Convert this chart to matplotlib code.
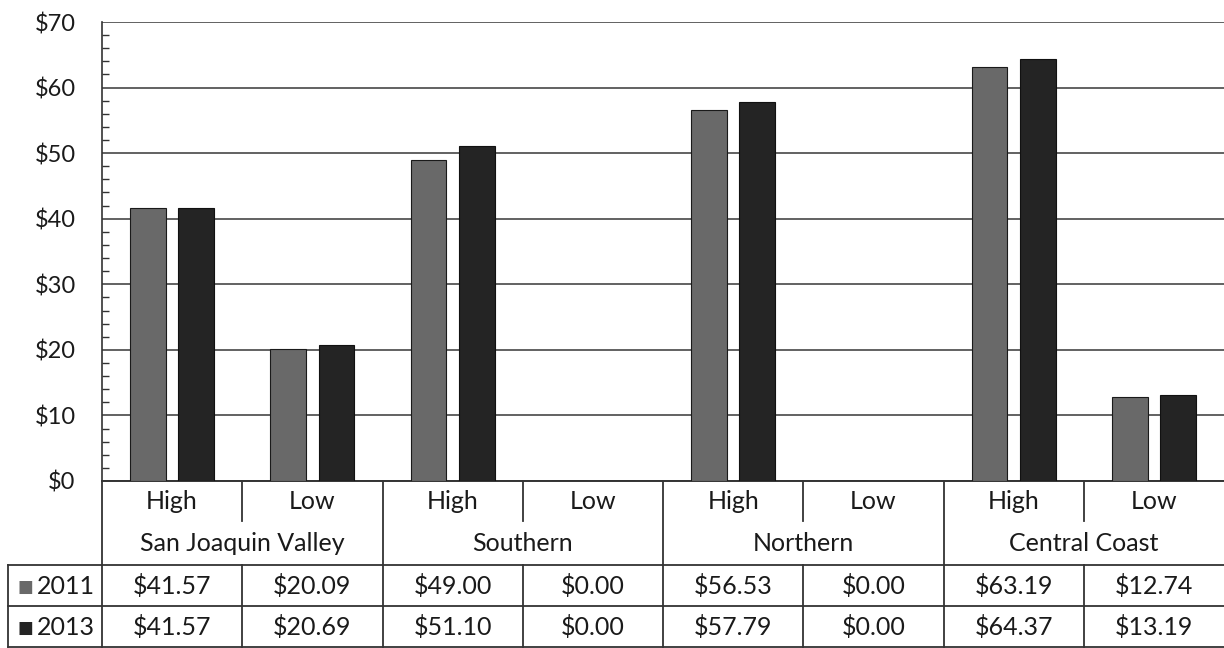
import matplotlib.pyplot as plt
from matplotlib.ticker import MultipleLocator, FuncFormatter

# prices per unit by region and rate level
regions = ['San Joaquin Valley', 'Southern', 'Northern', 'Central Coast']
levels = ['High', 'Low']
years = ['2011', '2013']
price_2011 = [41.57, 20.09, 49.00, 0.00, 56.53, 0.00, 63.19, 12.74]
price_2013 = [41.57, 20.69, 51.10, 0.00, 57.79, 0.00, 64.37, 13.19]
colors = ['#696969', '#242424']

plt.rcParams['font.family'] = ['Lato', 'DejaVu Sans']
W, H = 1224, 648
fig = plt.figure(figsize=(W / 100, H / 100), dpi=100)

left_px, top_px, bot_px = 102, 22, 481
ax = fig.add_axes([left_px / W, 1 - bot_px / H, 1 - left_px / W, (bot_px - top_px) / H])

n = len(price_2011)
xs = [i + 0.5 for i in range(n)]
bw = 0.255
ax.bar([x - 0.172 for x in xs], price_2011, bw, color=colors[0], edgecolor='#1a1a1a', lw=0.8, zorder=3)
ax.bar([x + 0.172 for x in xs], price_2013, bw, color=colors[1], edgecolor='#111111', lw=0.8, zorder=3)

ax.set_xlim(0, n)
ax.set_ylim(0, 70)
ax.yaxis.set_major_locator(MultipleLocator(10))
ax.yaxis.set_minor_locator(MultipleLocator(2))
ax.yaxis.set_major_formatter(FuncFormatter(lambda v, p: f'${v:.0f}'))
ax.tick_params(axis='y', which='major', length=0, labelsize=17, pad=19, labelcolor='#1a1a1a')
ax.tick_params(axis='y', which='minor', length=5, direction='in', width=1, color='#333333')
ax.set_xticks([])
ax.grid(axis='y', color='#555555', lw=1.3, zorder=0)
for s in ['top', 'right']:
    ax.spines[s].set_visible(False)
ax.spines['left'].set_color('#333333')
ax.spines['left'].set_linewidth(1.2)
ax.spines['bottom'].set_color('#333333')
ax.spines['bottom'].set_linewidth(1.4)

# data table under the plot, sharing the category x units
unit = (W - left_px) / n
tb = fig.add_axes([0, 0, 1, (H - bot_px) / H])
tb.set_xlim(-left_px / unit, n)
tb.set_ylim(H, bot_px)
tb.axis('off')

lc = dict(color='#333333', lw=1.3)
rows = [481, 521, 565, 606, 647]
x_lab = 8 / unit - left_px / unit

# horizontal rules
tb.plot([x_lab, n], [rows[2], rows[2]], **lc)
tb.plot([x_lab, n], [rows[3], rows[3]], **lc)
tb.plot([x_lab, n], [rows[4], rows[4]], **lc)
# verticals
tb.plot([x_lab, x_lab], [rows[2], rows[4]], **lc)
tb.plot([0, 0], [rows[0], rows[4]], **lc)
for g in range(1, len(regions)):
    tb.plot([2 * g, 2 * g], [rows[0], rows[4]], **lc)
for g in range(len(regions)):
    tb.plot([2 * g + 1, 2 * g + 1], [rows[0], rows[1]], **lc)
    tb.plot([2 * g + 1, 2 * g + 1], [rows[2], rows[4]], **lc)

fs = 18
tc = '#1a1a1a'
for i in range(n):
    tb.text(xs[i], (rows[0] + rows[1]) / 2 + 1, levels[i % 2], ha='center', va='center', fontsize=fs, color=tc)
    tb.text(xs[i], (rows[2] + rows[3]) / 2 + 1, f'${price_2011[i]:.2f}', ha='center', va='center', fontsize=fs, color=tc)
    tb.text(xs[i], (rows[3] + rows[4]) / 2 + 1, f'${price_2013[i]:.2f}', ha='center', va='center', fontsize=fs, color=tc)
for g, name in enumerate(regions):
    tb.text(2 * g + 1, (rows[1] + rows[2]) / 2 + 1, name, ha='center', va='center', fontsize=fs, color=tc)

for k, (yr, c) in enumerate(zip(years, colors)):
    yc = (rows[2 + k] + rows[3 + k]) / 2 + 1
    tb.text(x_lab + 0.065, yc, '\u25a0', ha='left', va='center', fontsize=12, color=c, family='DejaVu Sans')
    tb.text(-0.05, yc, yr, ha='right', va='center', fontsize=fs, color=tc)

fig.savefig('out.png', dpi=100)
